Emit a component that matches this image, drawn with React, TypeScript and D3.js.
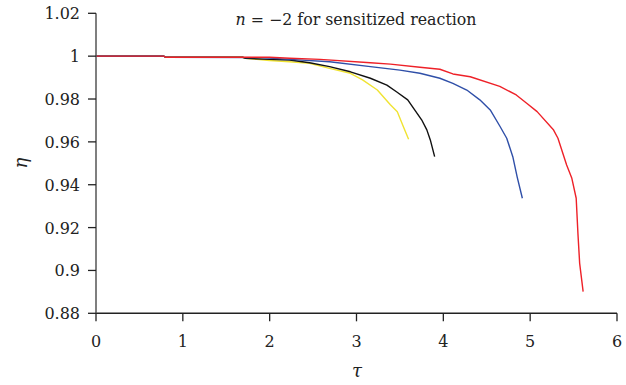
import React from "react";
import * as d3 from "d3";

const yellowTau = [0, 0.78, 0.8, 1.69, 1.72, 2.0, 2.23, 2.46, 2.69, 2.93, 3.07, 3.24, 3.39, 3.47, 3.54, 3.6];
const yellowEta = [1, 1, 0.9995, 0.9995, 0.999, 0.998, 0.9974, 0.9967, 0.9943, 0.992, 0.9889, 0.9842, 0.9773, 0.9741, 0.9671, 0.9612];

const blackTau = [0, 0.78, 0.8, 1.69, 1.72, 2.0, 2.23, 2.46, 2.69, 2.93, 3.16, 3.35, 3.46, 3.59, 3.67, 3.75, 3.81, 3.85, 3.9];
const blackEta = [1, 1, 0.9995, 0.9995, 0.999, 0.9985, 0.9982, 0.9969, 0.9951, 0.9927, 0.9897, 0.9865, 0.9834, 0.9796, 0.9749, 0.9703, 0.9656, 0.9609, 0.9531];

const blueTau = [0, 0.78, 0.8, 1.9, 2.23, 2.69, 3.16, 3.5, 3.73, 3.96, 4.11, 4.27, 4.42, 4.54, 4.65, 4.73, 4.8, 4.85, 4.91];
const blueEta = [1, 1, 0.9995, 0.9993, 0.9985, 0.9974, 0.9951, 0.9935, 0.992, 0.9897, 0.9873, 0.9842, 0.9796, 0.9749, 0.9674, 0.9617, 0.9531, 0.9437, 0.9337];

const redTau = [0, 0.78, 0.8, 2.0, 2.23, 2.58, 3.16, 3.39, 3.73, 3.96, 4.11, 4.31, 4.65, 4.84, 4.96, 5.08, 5.27, 5.32, 5.42, 5.48, 5.53, 5.55, 5.57, 5.61];
const redEta = [1, 1, 0.9995, 0.9995, 0.999, 0.9985, 0.9969, 0.9963, 0.9948, 0.9939, 0.9917, 0.9904, 0.9859, 0.9819, 0.978, 0.9741, 0.9655, 0.9617, 0.9492, 0.943, 0.9337, 0.9173, 0.9033, 0.8901];

const xTicks = [0, 1, 2, 3, 4, 5, 6];
const yTicks = [0.88, 0.9, 0.92, 0.94, 0.96, 0.98, 1, 1.02];
const yTickLabels = ["0.88", "0.9", "0.92", "0.94", "0.96", "0.98", "1", "1.02"];

const series = [
  { tau: yellowTau, eta: yellowEta, color: "#f0e332" },
  { tau: blackTau, eta: blackEta, color: "#111111" },
  { tau: blueTau, eta: blueEta, color: "#2f4fa8" },
  { tau: redTau, eta: redEta, color: "#ee2128" },
];

const W = 626;
const H = 385;
const FONT = "DejaVu Serif";

export default function App() {
  const x = d3.scaleLinear().domain([0, 6]).range([96, 617]);
  const y = d3.scaleLinear().domain([0.88, 1.02]).range([313.3, 13.3]);
  const line = d3
    .line<[number, number]>()
    .x((d) => x(d[0]))
    .y((d) => y(d[1]));
  const ts = { fontFamily: FONT };

  return (
    <svg
      width={W}
      height={H}
      style={{ position: "absolute", left: 0, top: 0, background: "#fff" }}
    >
      {series.map((s, i) => (
        <path
          key={i}
          d={line(s.tau.map((t, j) => [t, s.eta[j]] as [number, number])) || ""}
          fill="none"
          stroke={s.color}
          strokeWidth={1.4}
          strokeLinejoin="round"
        />
      ))}
      <line x1={x(0)} x2={x(6)} y1={y(0.88)} y2={y(0.88)} stroke="#222" strokeWidth={1.5} />
      <line x1={x(0)} x2={x(0)} y1={y(0.88)} y2={y(1.02)} stroke="#555" strokeWidth={1.5} />
      {xTicks.map((t) => (
        <g key={"x" + t}>
          <line x1={x(t)} x2={x(t)} y1={y(0.88)} y2={y(0.88) + 8} stroke="#222" strokeWidth={1.3} />
          <text x={x(t)} y={347} textAnchor="middle" fontSize={16} fill="#222" style={ts}>
            {t}
          </text>
        </g>
      ))}
      {yTicks.map((t, i) => (
        <g key={"y" + t}>
          <line x1={x(0) - 8} x2={x(0)} y1={y(t)} y2={y(t)} stroke="#222" strokeWidth={1.3} />
          <text x={80} y={y(t) + 6} textAnchor="end" fontSize={16} fill="#222" style={ts}>
            {yTickLabels[i]}
          </text>
        </g>
      ))}
      <text x={356} y={25} textAnchor="middle" fontSize={15.8} fill="#222" style={ts}>
        <tspan fontStyle="italic">n</tspan> = −2 for sensitized reaction
      </text>
      <text x={357} y={377} textAnchor="middle" fontSize={18} fontStyle="italic" fill="#222" style={ts}>
        τ
      </text>
      <text
        transform="translate(27,163) rotate(-90)"
        textAnchor="middle"
        fontSize={18}
        fontStyle="italic"
        fill="#222"
        style={ts}
      >
        η
      </text>
    </svg>
  );
}
